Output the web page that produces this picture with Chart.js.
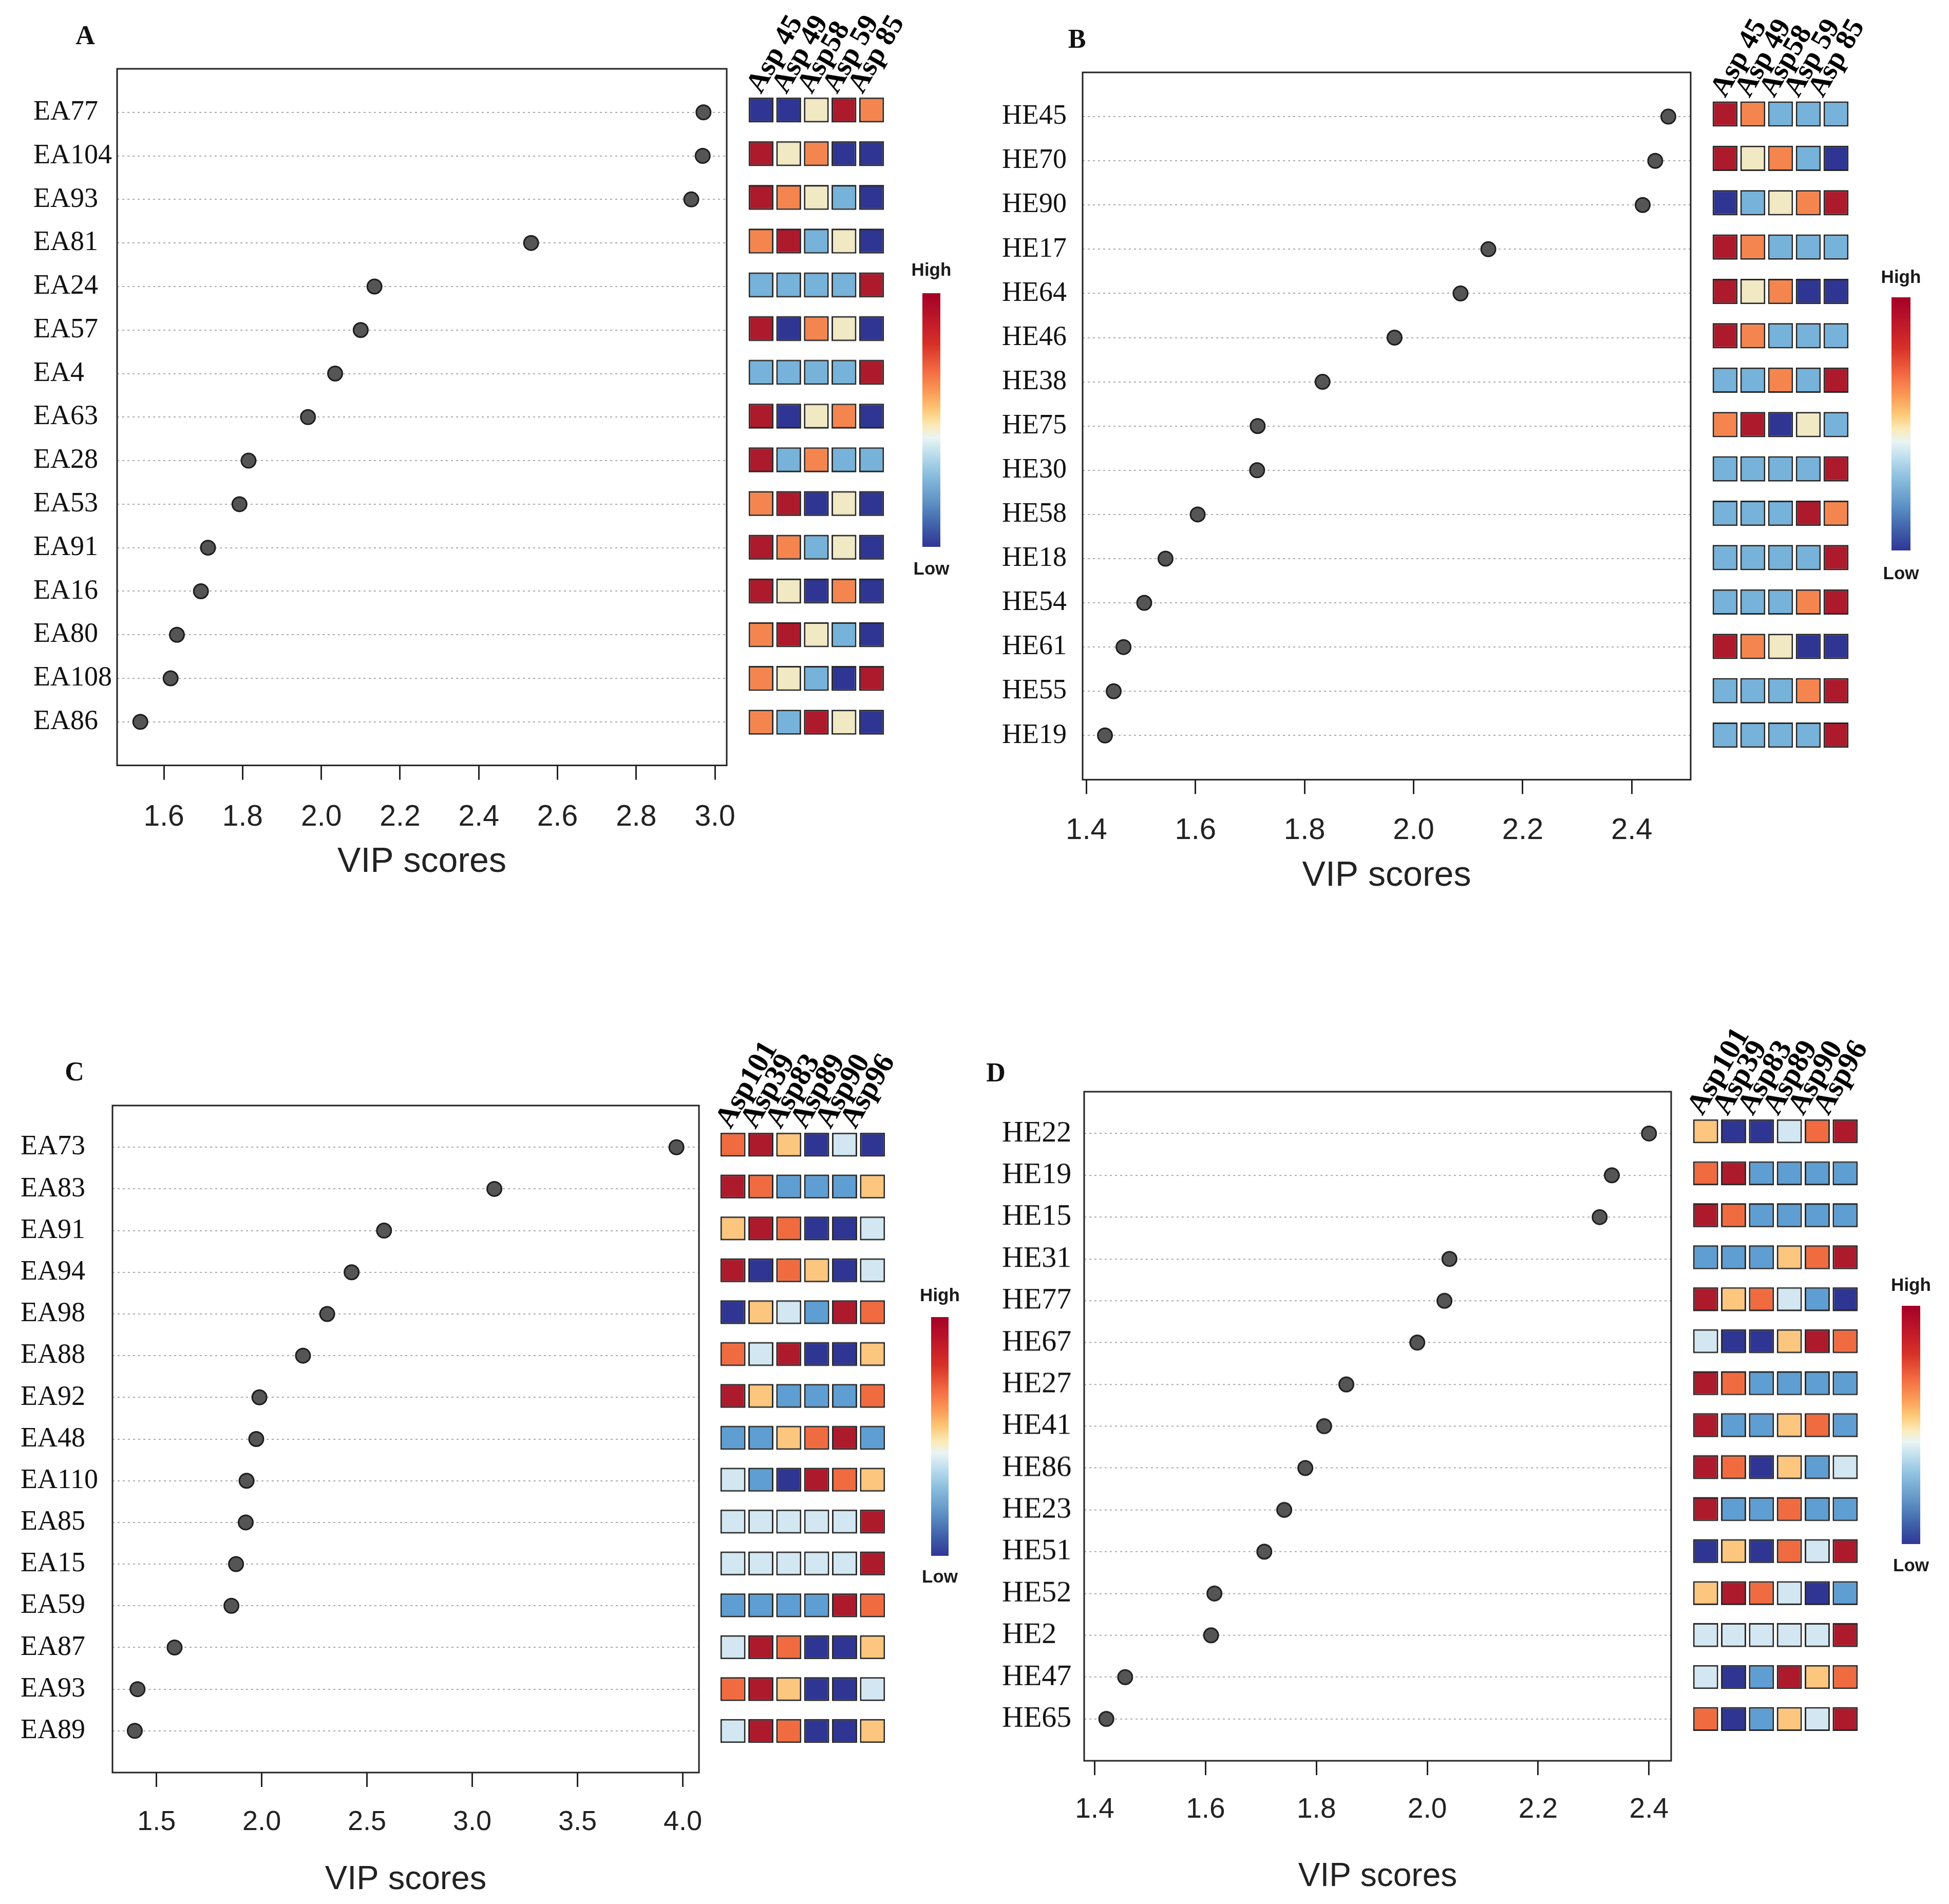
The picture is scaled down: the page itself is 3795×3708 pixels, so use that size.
<!DOCTYPE html>
<html><head><meta charset="utf-8">
<script src="https://cdn.jsdelivr.net/npm/chart.js@4.4.1/dist/chart.umd.min.js"></script>
<style>
html,body{margin:0;padding:0;background:#fff;}
body{width:3795px;height:3708px;position:relative;overflow:hidden;}
.cbox{position:absolute;}
.letter{position:absolute;font-family:'Liberation Serif','Times New Roman',serif;font-weight:bold;font-size:52px;color:#111;transform:translate(-50%,-50%);line-height:1;}
.legtxt{position:absolute;font-family:'Liberation Sans',Arial,sans-serif;font-weight:bold;font-size:35px;color:#1a1a1a;transform:translate(-50%,-50%);white-space:nowrap;line-height:1;}
.grad{position:absolute;background:linear-gradient(to bottom,#a50026 0%,#b8122a 8%,#d73027 20%,#f46d43 31%,#fb9a57 39%,#fdc877 46%,#fbeab6 52%,#e9f4f4 57%,#c0dfee 63%,#8dc0df 71%,#5f93c6 82%,#3f5fa9 92%,#313695 100%);}
</style></head><body>
<script>
const SERIF = "'Liberation Serif','Times New Roman',serif";
const SANS = "'Liberation Sans',Arial,sans-serif";

// ---------- DATA ----------
const colsAB = ['Asp 45','Asp 49','Asp58','Asp 59','Asp 85'];
const colsCD = ['Asp101','Asp39','Asp83','Asp89','Asp90','Asp96'];

const labelsA = ['EA77','EA104','EA93','EA81','EA24','EA57','EA4','EA63','EA28','EA53','EA91','EA16','EA80','EA108','EA86'];
const vipA = [2.971,2.969,2.940,2.533,2.135,2.100,2.035,1.966,1.815,1.792,1.712,1.694,1.633,1.617,1.540];
const heatA = [[1,1,3,5,4],[5,3,4,1,1],[5,4,3,2,1],[4,5,2,3,1],[2,2,2,2,5],[5,1,4,3,1],[2,2,2,2,5],[5,1,3,4,1],[5,2,4,2,2],[4,5,1,3,1],[5,4,2,3,1],[5,3,1,4,1],[4,5,3,2,1],[4,3,2,1,5],[4,2,5,3,1]];
const xTicksA = [1.6,1.8,2.0,2.2,2.4,2.6,2.8,3.0];

const labelsB = ['HE45','HE70','HE90','HE17','HE64','HE46','HE38','HE75','HE30','HE58','HE18','HE54','HE61','HE55','HE19'];
const vipB = [2.467,2.443,2.420,2.137,2.086,1.965,1.833,1.714,1.713,1.604,1.545,1.506,1.468,1.450,1.434];
const heatB = [[5,4,2,2,2],[5,3,4,2,1],[1,2,3,4,5],[5,4,2,2,2],[5,3,4,1,1],[5,4,2,2,2],[2,2,4,2,5],[4,5,1,3,2],[2,2,2,2,5],[2,2,2,5,4],[2,2,2,2,5],[2,2,2,4,5],[5,4,3,1,1],[2,2,2,4,5],[2,2,2,2,5]];
const xTicksB = [1.4,1.6,1.8,2.0,2.2,2.4];

const labelsC = ['EA73','EA83','EA91','EA94','EA98','EA88','EA92','EA48','EA110','EA85','EA15','EA59','EA87','EA93','EA89'];
const vipC = [3.970,3.105,2.581,2.427,2.311,2.196,1.989,1.974,1.928,1.924,1.878,1.856,1.586,1.410,1.397];
const heatC = [[5,6,4,1,3,1],[6,5,2,2,2,4],[4,6,5,1,1,3],[6,1,5,4,1,3],[1,4,3,2,6,5],[5,3,6,1,1,4],[6,4,2,2,2,5],[2,2,4,5,6,2],[3,2,1,6,5,4],[3,3,3,3,3,6],[3,3,3,3,3,6],[2,2,2,2,6,5],[3,6,5,1,1,4],[5,6,4,1,1,3],[3,6,5,1,1,4]];
const xTicksC = [1.5,2.0,2.5,3.0,3.5,4.0];

const labelsD = ['HE22','HE19','HE15','HE31','HE77','HE67','HE27','HE41','HE86','HE23','HE51','HE52','HE2','HE47','HE65'];
const vipD = [2.400,2.333,2.311,2.040,2.031,1.982,1.854,1.814,1.780,1.742,1.706,1.616,1.610,1.455,1.421];
const heatD = [[4,1,1,3,5,6],[5,6,2,2,2,2],[6,5,2,2,2,2],[2,2,2,4,5,6],[6,4,5,3,2,1],[3,1,1,4,6,5],[6,5,2,2,2,2],[6,2,2,4,5,2],[6,5,1,4,2,3],[6,2,2,5,2,2],[1,4,1,5,3,6],[4,6,5,3,1,2],[3,3,3,3,3,6],[3,1,2,6,4,5],[5,1,2,4,3,6]];
const xTicksD = [1.4,1.6,1.8,2.0,2.2,2.4];

// ---------- STYLE / LAYOUT ----------
const palette5 = ['#2f3593','#76b2d9','#f1e8c4','#f5854f','#ad1a2c'];
const palette6 = ['#2f3593','#5e9ed2','#d2e7f2','#fdc67e','#f06b40','#ad1a2c'];

const layoutPanels = [
  {letter:'A', labels:labelsA, vip:vipA, heat:heatA, cols:colsAB, ticks:xTicksA, pal:palette5,
   xmin:1.481, xmax:3.030, row0:214, pitch:85.1, plotL:65, boxL:228, boxR:1415, titleY:1679, tickPad:39,
   labelSize:54, tickSize:57, titleSize:68, colSize:56,
   heatL:1455, heatW:269, heatTop:0, labShift:30, labStep:8, letterX:166, letterY:69,
   leg:{x:1796, w:35, top:571, bot:1065, high:524, low:1106}},
  {letter:'B', labels:labelsB, vip:vipB, heat:heatB, cols:colsAB, ticks:xTicksB, pal:palette5,
   xmin:1.393, xmax:2.508, row0:222, pitch:86.4, plotL:1951, boxL:2108, boxR:3292, titleY:1706, tickPad:37,
   labelSize:54, tickSize:58, titleSize:68, colSize:56,
   heatL:3332, heatW:270, heatTop:0, labShift:30, labStep:5.5, letterX:2097, letterY:76,
   leg:{x:3683, w:37, top:579, bot:1072, high:538, low:1115}},
  {letter:'C', labels:labelsC, vip:vipC, heat:heatC, cols:colsCD, ticks:xTicksC, pal:palette6,
   xmin:1.291, xmax:4.077, row0:2229, pitch:81.5, plotL:40, boxL:219, boxR:1361, titleY:3661, tickPad:37,
   labelSize:54, tickSize:54, titleSize:65, colSize:58,
   heatL:1400, heatW:326, heatTop:1990, labShift:24, labStep:4, letterX:145, letterY:2087,
   leg:{x:1813, w:34, top:2565, bot:3030, high:2521, low:3069}},
  {letter:'D', labels:labelsD, vip:vipD, heat:heatD, cols:colsCD, ticks:xTicksD, pal:palette6,
   xmin:1.381, xmax:2.440, row0:2203, pitch:81.7, plotL:1951, boxL:2111, boxR:3254, titleY:3655, tickPad:35,
   labelSize:58, tickSize:55, titleSize:64, colSize:58,
   heatL:3294, heatW:326, heatTop:1975, labShift:22, labStep:4.5, letterX:1939, letterY:2089,
   leg:{x:3703, w:36, top:2543, bot:3007, high:2501, low:3047}}
];

const boxPlugin = {
  id:'frameBox',
  afterDraw(chart){
    const a = chart.chartArea, ctx = chart.ctx;
    ctx.save();
    ctx.strokeStyle = '#222';
    ctx.lineWidth = 3;
    ctx.strokeRect(a.left, a.top, a.right - a.left, a.bottom - a.top);
    ctx.restore();
  }
};

function makeBox(x, y, w, h){
  const d = document.createElement('div');
  d.className = 'cbox';
  d.style.left = x + 'px'; d.style.top = y + 'px';
  d.style.width = w + 'px'; d.style.height = h + 'px';
  const c = document.createElement('canvas');
  d.appendChild(c);
  document.body.appendChild(d);
  return c;
}
function addText(cls, txt, x, y){
  const d = document.createElement('div');
  d.className = cls; d.textContent = txt;
  d.style.left = x + 'px'; d.style.top = y + 'px';
  document.body.appendChild(d);
}

function makePanel(p){
  const boxTop = p.row0 - p.pitch;
  const boxBot = p.row0 + 15 * p.pitch;
  const padT = 12, padR = 60;
  const cTop = boxTop - padT;
  const cBot = p.titleY + p.titleSize / 2;
  const canvas = makeBox(p.plotL, cTop, p.boxR + padR - p.plotL, cBot - cTop);
  new Chart(canvas, {
    type:'scatter',
    data:{datasets:[{
      data:p.vip.map((v,i)=>({x:v, y:i})),
      pointRadius:14, pointHoverRadius:14,
      pointBackgroundColor:'#555555', pointBorderColor:'#1c1c1c', pointBorderWidth:3
    }]},
    options:{
      responsive:true, maintainAspectRatio:false, animation:false, devicePixelRatio:1,
      layout:{padding:{top:padT, right:padR, left:0, bottom:0}},
      plugins:{legend:{display:false}, tooltip:{enabled:false}},
      scales:{
        x:{type:'linear', position:'bottom', min:p.xmin, max:p.xmax,
          afterBuildTicks:s=>{ s.ticks = p.ticks.map(v=>({value:v})); },
          afterFit:s=>{ s.height = cBot - boxBot; s.paddingLeft = 0; s.paddingRight = 0; },
          grid:{drawOnChartArea:false, drawTicks:true, tickLength:28, tickWidth:3, tickColor:'#222'},
          border:{display:false},
          ticks:{font:{family:SANS, size:p.tickSize}, color:'#222', padding:p.tickPad,
                 maxRotation:0, autoSkip:false, callback:v=>Number(v).toFixed(1)},
          title:{display:true, text:'VIP scores', color:'#222',
                 font:{family:SANS, size:p.titleSize, lineHeight:1}, padding:{top:0, bottom:0}}
        },
        y:{type:'linear', reverse:true, min:-1, max:15,
          afterBuildTicks:s=>{ s.ticks = p.labels.map((_,i)=>({value:i})); },
          afterFit:s=>{ s.width = p.boxL - p.plotL; s.paddingTop = 0; s.paddingBottom = 0; },
          grid:{drawTicks:false, color:'#a9a9a9', lineWidth:2},
          border:{display:false, dash:[4,6]},
          ticks:{crossAlign:'far', autoSkip:false, color:'#111',
                 font:{family:SERIF, size:p.labelSize}, callback:v=>p.labels[v]}
        }
      }
    },
    plugins:[boxPlugin]
  });

  // heatmap
  const n = p.cols.length;
  const hMin = -0.32, hMax = 14.6;
  const hTopArea = p.row0 + hMin * p.pitch;
  const hBotArea = p.row0 + hMax * p.pitch;
  const hPadL = 90, hPadR = 160;
  const cellW = p.heatW / n;
  // label axis: column labels fan out slightly wider than the cells, as in the original
  const k = cellW + p.labStep;
  const lMin = -(0.5 * cellW + p.labShift) / k;
  const lMax = lMin + p.heatW / k;
  const hc = makeBox(p.heatL - hPadL, p.heatTop, p.heatW + hPadL + hPadR, hBotArea - p.heatTop + 6);
  new Chart(hc, {
    type:'bar',
    data:{labels:p.cols, datasets:p.heat.map((row,i)=>({
      data:row.map(()=>[i - 0.285, i + 0.285]),
      backgroundColor:row.map(l=>p.pal[l-1]),
      borderColor:'#262626', borderWidth:3, borderSkipped:false,
      grouped:false, barPercentage:0.9, categoryPercentage:1
    }))},
    options:{
      responsive:true, maintainAspectRatio:false, animation:false, devicePixelRatio:1,
      layout:{padding:{left:hPadL, right:hPadR, top:0, bottom:6}},
      plugins:{legend:{display:false}, tooltip:{enabled:false}},
      scales:{
        x:{display:false},
        xl:{type:'linear', position:'top', min:lMin, max:lMax,
          grid:{display:false}, border:{display:false},
          afterBuildTicks:s=>{ s.ticks = p.cols.map((_,i)=>({value:i})); },
          afterFit:s=>{ s.height = hTopArea - p.heatTop; s.paddingLeft = 0; s.paddingRight = 0; },
          ticks:{minRotation:60, maxRotation:60, autoSkip:false, padding:-15,
                 font:{family:SERIF, size:p.colSize, weight:'bold'}, color:'#000',
                 callback:v=>p.cols[v]}},
        y:{type:'linear', reverse:true, min:hMin, max:hMax, display:false}
      }
    }
  });

  // colour key
  const g = document.createElement('div');
  g.className = 'grad';
  g.style.left = p.leg.x + 'px'; g.style.top = p.leg.top + 'px';
  g.style.width = p.leg.w + 'px'; g.style.height = (p.leg.bot - p.leg.top) + 'px';
  document.body.appendChild(g);
  addText('legtxt', 'High', p.leg.x + p.leg.w / 2, p.leg.high);
  addText('legtxt', 'Low', p.leg.x + p.leg.w / 2, p.leg.low);
  addText('letter', p.letter, p.letterX, p.letterY);
}

layoutPanels.forEach(makePanel);
</script>
</body></html>
